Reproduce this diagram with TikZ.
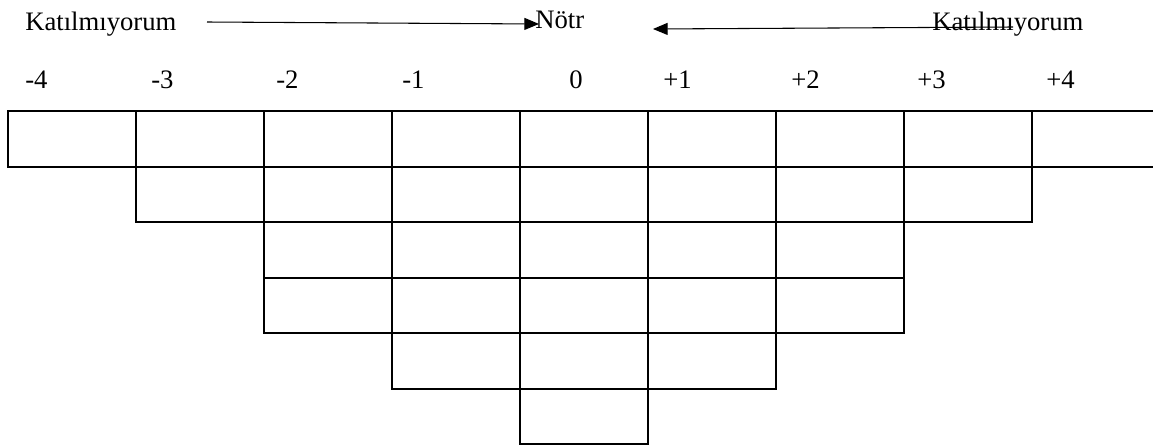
\documentclass[tikz,border=0pt]{standalone}
\usepackage{fontspec}
\setmainfont{Liberation Serif}
\usetikzlibrary{arrows.meta}
\begin{document}
\begin{tikzpicture}[x=0.75pt,y=-0.75pt,
  cell/.style={draw,line width=1.4pt,minimum width=96pt,
    inner sep=0pt,outer sep=0pt,anchor=north west},
  lbl/.style={anchor=base west,inner sep=0pt,font=\fontsize{20pt}{23pt}\selectfont},
  pointer/.style={line width=0.8pt,-{Triangle[length=11pt,width=9pt]}}]
\useasboundingbox (0,0) rectangle (1153,447);
\clip (0,0) rectangle (1153,447);
% headings
\node[lbl] (left) at (25,30) {Katılmıyorum};
\node[lbl] (mid) at (535,28) {Nötr};
\node[lbl] (right) at (932,30) {Katılmıyorum};
\coordinate (lstart) at (207,22);
\coordinate (lend) at (539,24);
\coordinate (rstart) at (1013,27);
\coordinate (rend) at (653,29);
\draw[pointer] (lstart) -- (lend);
\draw[pointer] (rstart) -- (rend);
% scale values
\foreach \t/\x [count=\i] in {-4/25,-3/151,-2/276,-1/402,0/569,+1/663,+2/791,+3/917,+4/1046}
  \node[lbl] (v\i) at (\x,88) {\t};
% distribution grid: row / top edge / height / first column / last column
\foreach \r/\y/\h/\a/\b in {0/111/56/0/8,1/167/55/1/7,2/222/56/2/6,3/278/55/2/6,4/333/56/3/5,5/389/55/4/4}
  \foreach \c in {\a,...,\b}
    \node[cell,minimum height={0.75pt*\h}] (c-\r-\c) at ({8+128*\c},\y) {};
\end{tikzpicture}
\end{document}
